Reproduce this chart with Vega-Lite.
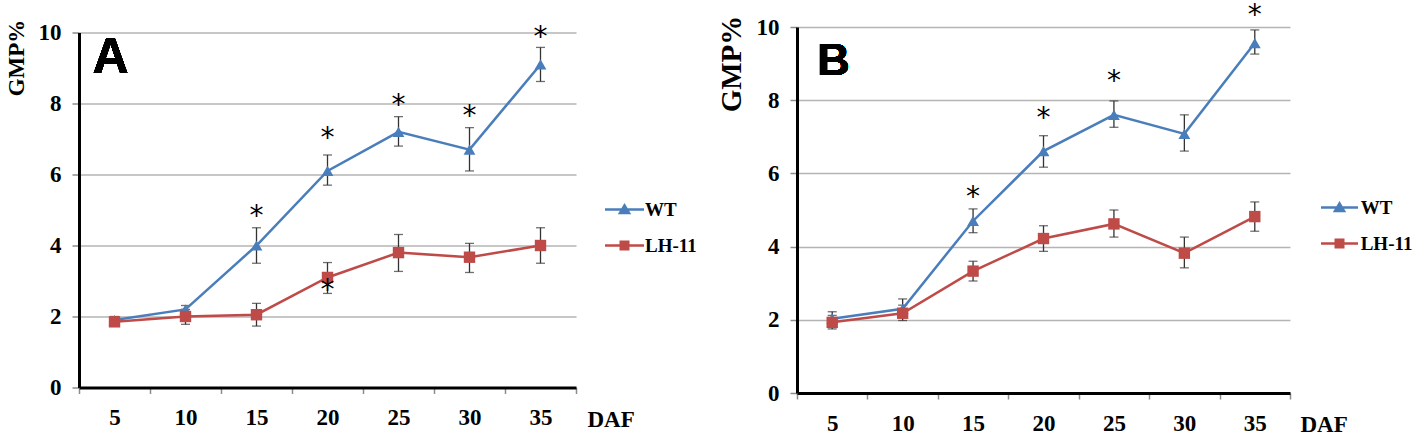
{
  "$schema": "https://vega.github.io/schema/vega-lite/v6.json",
  "background": "white",
  "padding": {"left": 5, "top": 1, "right": 5, "bottom": 5},
  "spacing": 221,
  "bounds": "flush",
  "center": true,
  "datasets": {
    "A": [
      {"daf": 5, "series": "WT", "mean": 1.9, "lo": 1.8, "hi": 2.0},
      {"daf": 10, "series": "WT", "mean": 2.2, "lo": 2.1, "hi": 2.31},
      {"daf": 15, "series": "WT", "mean": 4.0, "lo": 3.5, "hi": 4.5},
      {"daf": 20, "series": "WT", "mean": 6.1, "lo": 5.7, "hi": 6.55},
      {"daf": 25, "series": "WT", "mean": 7.2, "lo": 6.8, "hi": 7.63},
      {"daf": 30, "series": "WT", "mean": 6.7, "lo": 6.1, "hi": 7.32},
      {"daf": 35, "series": "WT", "mean": 9.1, "lo": 8.62, "hi": 9.58},
      {"daf": 5, "series": "LH-11", "mean": 1.85, "lo": 1.75, "hi": 1.95},
      {"daf": 10, "series": "LH-11", "mean": 2.0, "lo": 1.78, "hi": 2.2},
      {"daf": 15, "series": "LH-11", "mean": 2.05, "lo": 1.73, "hi": 2.37},
      {"daf": 20, "series": "LH-11", "mean": 3.1, "lo": 2.65, "hi": 3.52},
      {"daf": 25, "series": "LH-11", "mean": 3.8, "lo": 3.27, "hi": 4.31},
      {"daf": 30, "series": "LH-11", "mean": 3.67, "lo": 3.24, "hi": 4.06},
      {"daf": 35, "series": "LH-11", "mean": 4.0, "lo": 3.5, "hi": 4.5}
    ],
    "B": [
      {"daf": 5, "series": "WT", "mean": 2.03, "lo": 1.84, "hi": 2.22},
      {"daf": 10, "series": "WT", "mean": 2.3, "lo": 2.05, "hi": 2.57},
      {"daf": 15, "series": "WT", "mean": 4.7, "lo": 4.38, "hi": 5.03},
      {"daf": 20, "series": "WT", "mean": 6.61, "lo": 6.17, "hi": 7.03},
      {"daf": 25, "series": "WT", "mean": 7.6, "lo": 7.26, "hi": 7.98},
      {"daf": 30, "series": "WT", "mean": 7.08, "lo": 6.61, "hi": 7.6},
      {"daf": 35, "series": "WT", "mean": 9.56, "lo": 9.26, "hi": 9.92},
      {"daf": 5, "series": "LH-11", "mean": 1.93, "lo": 1.75, "hi": 2.12},
      {"daf": 10, "series": "LH-11", "mean": 2.18, "lo": 1.98, "hi": 2.4},
      {"daf": 15, "series": "LH-11", "mean": 3.33, "lo": 3.06, "hi": 3.6},
      {"daf": 20, "series": "LH-11", "mean": 4.22, "lo": 3.87, "hi": 4.57},
      {"daf": 25, "series": "LH-11", "mean": 4.62, "lo": 4.26, "hi": 5.0},
      {"daf": 30, "series": "LH-11", "mean": 3.82, "lo": 3.42, "hi": 4.26},
      {"daf": 35, "series": "LH-11", "mean": 4.82, "lo": 4.42, "hi": 5.22}
    ],
    "starsA": [
      {"daf": 15, "y": 4.93, "t": "*"},
      {"daf": 20, "y": 7.13, "t": "*"},
      {"daf": 25, "y": 8.06, "t": "*"},
      {"daf": 30, "y": 7.75, "t": "*"},
      {"daf": 35, "y": 10.0, "t": "*"},
      {"daf": 20, "y": 2.85, "t": "*"}
    ],
    "starsB": [
      {"daf": 15, "y": 5.46, "t": "*"},
      {"daf": 20, "y": 7.62, "t": "*"},
      {"daf": 25, "y": 8.63, "t": "*"},
      {"daf": 35, "y": 10.44, "t": "*"}
    ]
  },
  "config": {
    "view": {"stroke": null},
    "axis": {
      "labelFont": "Liberation Serif", "labelFontWeight": "bold", "labelFontSize": 23, "labelColor": "#000",
      "titleFont": "Liberation Serif", "titleFontWeight": "bold", "titleFontSize": 23, "titleColor": "#000",
      "domainColor": "#000", "domainWidth": 3, "tickColor": "#8c8c8c", "tickWidth": 1.5,
      "gridColor": "#b4b4b4", "gridWidth": 1.5
    },
    "legend": {
      "title": null, "padding": 0, "labelFont": "Liberation Serif", "labelFontWeight": "bold",
      "labelFontSize": 19, "labelColor": "#000", "symbolSize": 100, "rowPadding": 16,
      "symbolStrokeWidth": 2.5, "labelOffset": 11
    }
  },
  "resolve": {"scale": {"shape": "independent", "fill": "independent", "stroke": "independent", "x": "independent", "y": "independent"}, "legend": {"shape": "independent", "fill": "independent", "stroke": "independent"}},
  "hconcat": [
    {
      "width": 497, "height": 355,
      "data": {"name": "A"},
      "encoding": {
        "x": {"field": "daf", "type": "ordinal", "scale": {"paddingInner": 0, "paddingOuter": 0},
          "axis": {"title": "DAF", "labelAngle": 0, "tickBand": "extent", "tickSize": 6, "labelPadding": 13,
            "labelFont": "Liberation Serif", "labelFontWeight": "bold", "labelFontSize": 23, "labelColor": "#000",
            "titleX": 508, "titleY": 39, "titleAlign": "left", "titleBaseline": "alphabetic", "grid": false}}
      },
      "layer": [
        {"mark": {"type": "rule", "color": "#333", "strokeWidth": 1.3},
          "encoding": {
            "y": {"field": "lo", "type": "quantitative", "scale": {"domain": [0, 10], "nice": false},
              "axis": {"title": "GMP%", "values": [0, 2, 4, 6, 8, 10], "tickSize": 7, "labelPadding": 11,
                "labelFont": "Liberation Serif", "labelFontWeight": "bold", "labelFontSize": 23, "labelColor": "#000",
                "titleX": -56, "titleY": 25, "titleAngle": -90, "titleAlign": "center", "titleBaseline": "alphabetic", "grid": true}},
            "y2": {"field": "hi"}}},
        {"mark": {"type": "tick", "color": "#333", "thickness": 1.3, "size": 9},
          "encoding": {"y": {"field": "lo", "type": "quantitative", "scale": {"domain": [0, 10], "nice": false}}}},
        {"mark": {"type": "tick", "color": "#333", "thickness": 1.3, "size": 9},
          "encoding": {"y": {"field": "hi", "type": "quantitative", "scale": {"domain": [0, 10], "nice": false}}}},
        {"transform": [{"filter": "datum.series === 'WT'"}],
          "mark": {"type": "line", "strokeWidth": 2.5, "color": "#4A7EBB"},
          "encoding": {"y": {"field": "mean", "type": "quantitative", "scale": {"domain": [0, 10], "nice": false}}}},
        {"transform": [{"filter": "datum.series === 'LH-11'"}],
          "mark": {"type": "line", "strokeWidth": 2.5, "color": "#BE4B48"},
          "encoding": {"y": {"field": "mean", "type": "quantitative", "scale": {"domain": [0, 10], "nice": false}}}},
        {"transform": [{"filter": "datum.series === 'WT'"}],
          "mark": {"type": "point", "filled": true, "size": 140, "opacity": 1, "shape": "triangle-up", "color": "#4A7EBB"},
          "encoding": {"y": {"field": "mean", "type": "quantitative", "scale": {"domain": [0, 10], "nice": false}}}},
        {"transform": [{"filter": "datum.series === 'LH-11'"}],
          "mark": {"type": "point", "filled": true, "size": 130, "opacity": 1, "shape": "square", "color": "#BE4B48"},
          "encoding": {"y": {"field": "mean", "type": "quantitative", "scale": {"domain": [0, 10], "nice": false}}}},
        {"transform": [{"filter": "false"}],
          "mark": {"type": "point", "filled": true, "opacity": 1, "strokeWidth": 2.5},
          "encoding": {
            "y": {"field": "mean", "type": "quantitative", "scale": {"domain": [0, 10], "nice": false}},
            "fill": {"field": "series", "type": "nominal", "scale": {"domain": ["WT", "LH-11"], "range": ["#4A7EBB", "#BE4B48"]},
              "legend": {"orient": "none", "legendX": 536, "legendY": 167.5, "labelOffset": 11}},
            "stroke": {"field": "series", "type": "nominal", "scale": {"domain": ["WT", "LH-11"], "range": ["#4A7EBB", "#BE4B48"]},
              "legend": {"orient": "none", "legendX": 536, "legendY": 167.5, "labelOffset": 11}},
            "shape": {"field": "series", "type": "nominal", "scale": {"domain": ["WT", "LH-11"], "range": ["M-3.9,0L3.9,0M0,-0.8L0.9,0.7L-0.9,0.7Z", "M-3.9,0L3.9,0M-0.75,-0.75L0.75,-0.75L0.75,0.75L-0.75,0.75Z"]},
              "legend": {"orient": "none", "legendX": 536, "legendY": 167.5, "labelOffset": 11}}}},
        {"data": {"name": "starsA"},
          "mark": {"type": "text", "font": "DejaVu Sans", "fontSize": 28, "baseline": "middle", "dy": 5, "color": "#000"},
          "encoding": {
            "y": {"field": "y", "type": "quantitative", "scale": {"domain": [0, 10], "nice": false}},
            "text": {"field": "t"}}},
        {"mark": {"type": "text", "text": "A", "font": "Liberation Sans", "fontWeight": "bold", "fontSize": 50, "align": "left", "baseline": "alphabetic", "dx": -22, "color": "#000"},
          "encoding": {
            "x": {"datum": 5},
            "y": {"datum": 8.85, "type": "quantitative", "scale": {"domain": [0, 10], "nice": false}}}}
      ]
    },
    {
      "width": 493, "height": 366,
      "data": {"name": "B"},
      "encoding": {
        "x": {"field": "daf", "type": "ordinal", "scale": {"paddingInner": 0, "paddingOuter": 0},
          "axis": {"title": "DAF", "labelAngle": 0, "tickBand": "extent", "tickSize": 6, "labelPadding": 13,
            "labelFont": "Liberation Serif", "labelFontWeight": "bold", "labelFontSize": 23, "labelColor": "#000",
            "titleX": 503, "titleY": 38, "titleAlign": "left", "titleBaseline": "alphabetic", "grid": false}}
      },
      "layer": [
        {"mark": {"type": "rule", "color": "#333", "strokeWidth": 1.3},
          "encoding": {
            "y": {"field": "lo", "type": "quantitative", "scale": {"domain": [0, 10], "nice": false},
              "axis": {"title": "GMP%", "values": [0, 2, 4, 6, 8, 10], "tickSize": 7, "labelPadding": 11,
                "labelFont": "Liberation Serif", "labelFontWeight": "bold", "labelFontSize": 23, "labelColor": "#000",
                "titleX": -57, "titleY": 36.5, "titleAngle": -90, "titleAlign": "center", "titleBaseline": "alphabetic", "titleFontSize": 29, "grid": true}},
            "y2": {"field": "hi"}}},
        {"mark": {"type": "tick", "color": "#333", "thickness": 1.3, "size": 9},
          "encoding": {"y": {"field": "lo", "type": "quantitative", "scale": {"domain": [0, 10], "nice": false}}}},
        {"mark": {"type": "tick", "color": "#333", "thickness": 1.3, "size": 9},
          "encoding": {"y": {"field": "hi", "type": "quantitative", "scale": {"domain": [0, 10], "nice": false}}}},
        {"transform": [{"filter": "datum.series === 'WT'"}],
          "mark": {"type": "line", "strokeWidth": 2.5, "color": "#4A7EBB"},
          "encoding": {"y": {"field": "mean", "type": "quantitative", "scale": {"domain": [0, 10], "nice": false}}}},
        {"transform": [{"filter": "datum.series === 'LH-11'"}],
          "mark": {"type": "line", "strokeWidth": 2.5, "color": "#BE4B48"},
          "encoding": {"y": {"field": "mean", "type": "quantitative", "scale": {"domain": [0, 10], "nice": false}}}},
        {"transform": [{"filter": "datum.series === 'WT'"}],
          "mark": {"type": "point", "filled": true, "size": 140, "opacity": 1, "shape": "triangle-up", "color": "#4A7EBB"},
          "encoding": {"y": {"field": "mean", "type": "quantitative", "scale": {"domain": [0, 10], "nice": false}}}},
        {"transform": [{"filter": "datum.series === 'LH-11'"}],
          "mark": {"type": "point", "filled": true, "size": 130, "opacity": 1, "shape": "square", "color": "#BE4B48"},
          "encoding": {"y": {"field": "mean", "type": "quantitative", "scale": {"domain": [0, 10], "nice": false}}}},
        {"transform": [{"filter": "false"}],
          "mark": {"type": "point", "filled": true, "opacity": 1, "strokeWidth": 2.5},
          "encoding": {
            "y": {"field": "mean", "type": "quantitative", "scale": {"domain": [0, 10], "nice": false}},
            "fill": {"field": "series", "type": "nominal", "scale": {"domain": ["WT", "LH-11"], "range": ["#4A7EBB", "#BE4B48"]},
              "legend": {"orient": "none", "legendX": 533, "legendY": 171, "labelOffset": 11.7}},
            "stroke": {"field": "series", "type": "nominal", "scale": {"domain": ["WT", "LH-11"], "range": ["#4A7EBB", "#BE4B48"]},
              "legend": {"orient": "none", "legendX": 533, "legendY": 171, "labelOffset": 11.7}},
            "shape": {"field": "series", "type": "nominal", "scale": {"domain": ["WT", "LH-11"], "range": ["M-3.7,0L3.7,0M0,-0.8L0.9,0.7L-0.9,0.7Z", "M-3.7,0L3.7,0M-0.75,-0.75L0.75,-0.75L0.75,0.75L-0.75,0.75Z"]},
              "legend": {"orient": "none", "legendX": 533, "legendY": 171, "labelOffset": 11.7}}}},
        {"data": {"name": "starsB"},
          "mark": {"type": "text", "font": "DejaVu Sans", "fontSize": 28, "baseline": "middle", "dy": 5, "color": "#000"},
          "encoding": {
            "y": {"field": "y", "type": "quantitative", "scale": {"domain": [0, 10], "nice": false}},
            "text": {"field": "t"}}},
        {"mark": {"type": "text", "text": "B", "font": "Liberation Sans", "fontWeight": "bold", "fontSize": 45, "align": "left", "baseline": "alphabetic", "dx": -15, "color": "#000"},
          "encoding": {
            "x": {"datum": 5},
            "y": {"datum": 8.7, "type": "quantitative", "scale": {"domain": [0, 10], "nice": false}}}}
      ]
    }
  ]
}
